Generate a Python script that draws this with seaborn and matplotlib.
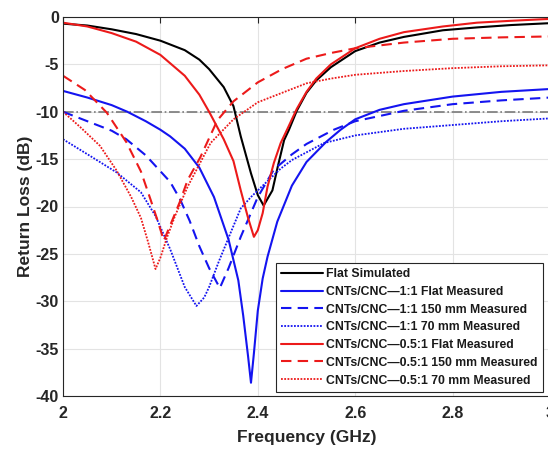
import matplotlib
matplotlib.use("Agg")
import matplotlib.pyplot as plt
import seaborn as sns
import pandas as pd

# ---------------- data ----------------
flat_sim_f = [2.00, 2.05, 2.10, 2.15, 2.20, 2.25, 2.28, 2.30, 2.33, 2.35, 2.365, 2.386, 2.40,
              2.412, 2.43, 2.441, 2.454, 2.464, 2.48, 2.50, 2.52, 2.55, 2.60, 2.65, 2.70, 2.78,
              2.85, 2.92, 3.00]
flat_sim_rl = [-0.7, -0.9, -1.3, -1.8, -2.5, -3.5, -4.5, -5.5, -7.4, -9.4, -12.6, -16.5, -18.8,
               -19.9, -18.3, -15.8, -13.0, -11.9, -9.9, -8.0, -6.7, -5.3, -3.6, -2.7, -2.1, -1.4,
               -1.1, -0.85, -0.65]

r11_flat_f = [2.00, 2.05, 2.10, 2.132, 2.17, 2.20, 2.22, 2.25, 2.28, 2.31, 2.34, 2.36, 2.37,
              2.38, 2.386, 2.392, 2.40, 2.41, 2.42, 2.44, 2.47, 2.50, 2.54, 2.57, 2.60, 2.65,
              2.70, 2.80, 2.90, 3.00]
r11_flat_rl = [-7.8, -8.5, -9.3, -10.0, -11.0, -11.9, -12.6, -13.9, -15.9, -19.0, -23.5, -27.8,
               -31.5, -35.8, -38.6, -35.5, -31.0, -27.6, -25.3, -21.6, -17.8, -15.3, -13.2,
               -11.9, -10.8, -9.8, -9.2, -8.4, -7.9, -7.6]

r11_150_f = [2.00, 2.03, 2.10, 2.13, 2.17, 2.22, 2.24, 2.26, 2.28, 2.30, 2.322, 2.34, 2.365,
             2.40, 2.433, 2.47, 2.50, 2.556, 2.60, 2.70, 2.80, 2.90, 3.00]
r11_150_rl = [-10.0, -10.6, -12.0, -12.9, -14.6, -17.4, -19.2, -21.5, -24.2, -26.5, -28.6,
              -26.5, -23.2, -19.0, -16.1, -14.5, -13.4, -11.9, -11.0, -9.9, -9.2, -8.8, -8.5]

r11_70_f = [2.00, 2.06, 2.11, 2.16, 2.19, 2.22, 2.25, 2.274, 2.29, 2.30, 2.32, 2.344, 2.365,
            2.386, 2.406, 2.447, 2.47, 2.536, 2.60, 2.70, 2.80, 2.90, 3.00]
r11_70_rl = [-12.9, -14.8, -16.4, -18.5, -21.0, -24.5, -28.5, -30.5, -29.6, -28.5, -25.8,
             -22.8, -20.2, -19.0, -18.0, -16.0, -15.1, -13.3, -12.5, -11.8, -11.4, -11.0, -10.7]

r05_flat_f = [2.00, 2.05, 2.10, 2.15, 2.20, 2.25, 2.28, 2.30, 2.33, 2.35, 2.365, 2.38, 2.392,
              2.40, 2.41, 2.42, 2.433, 2.447, 2.46, 2.48, 2.50, 2.52, 2.55, 2.60, 2.65, 2.70,
              2.78, 2.85, 2.92, 3.00]
r05_flat_rl = [-0.6, -1.0, -1.7, -2.6, -4.0, -6.2, -8.2, -10.0, -12.9, -15.2, -18.3, -21.2,
               -23.2, -22.5, -20.7, -17.9, -15.4, -13.3, -11.9, -9.7, -7.9, -6.5, -5.0, -3.3,
               -2.3, -1.6, -1.0, -0.6, -0.4, -0.2]

r05_150_f = [2.00, 2.045, 2.09, 2.13, 2.16, 2.18, 2.195, 2.207, 2.22, 2.24, 2.256, 2.282,
             2.317, 2.35, 2.40, 2.45, 2.50, 2.55, 2.60, 2.70, 2.80, 2.90, 3.00]
r05_150_rl = [-6.2, -7.7, -10.1, -13.2, -16.3, -19.3, -21.6, -23.6, -22.0, -19.5, -17.2,
              -14.8, -10.9, -8.9, -6.9, -5.5, -4.4, -3.8, -3.3, -2.7, -2.3, -2.15, -2.05]

r05_70_f = [2.00, 2.035, 2.076, 2.11, 2.14, 2.16, 2.175, 2.19, 2.20, 2.214, 2.23, 2.256, 2.303,
            2.35, 2.40, 2.45, 2.50, 2.55, 2.60, 2.70, 2.80, 2.90, 3.00]
r05_70_rl = [-10.0, -11.6, -13.6, -16.2, -19.0, -21.2, -23.8, -26.6, -25.4, -23.2, -21.0,
             -17.9, -13.3, -10.8, -9.0, -8.0, -7.0, -6.5, -6.1, -5.7, -5.4, -5.2, -5.1]

labels = ["Flat Simulated",
          "CNTs/CNC\u20141:1 Flat Measured",
          "CNTs/CNC\u20141:1 150 mm Measured",
          "CNTs/CNC\u20141:1 70 mm Measured",
          "CNTs/CNC\u20140.5:1 Flat Measured",
          "CNTs/CNC\u20140.5:1 150 mm Measured",
          "CNTs/CNC\u20140.5:1 70 mm Measured"]
series = [(flat_sim_f, flat_sim_rl), (r11_flat_f, r11_flat_rl), (r11_150_f, r11_150_rl),
          (r11_70_f, r11_70_rl), (r05_flat_f, r05_flat_rl), (r05_150_f, r05_150_rl),
          (r05_70_f, r05_70_rl)]
threshold = -10

# ---------------- style ----------------
sns.set_theme(style="white")
plt.rcParams["font.family"] = ["Liberation Sans", "DejaVu Sans"]
plt.rcParams["font.weight"] = "bold"
plt.rcParams["axes.unicode_minus"] = False

colors = ["#000000", "#1414f0", "#1414f0", "#1414f0", "#ec1a1a", "#ec1a1a", "#ec1a1a"]
styles = ["-", "-", (0, (5, 3)), (0, (1, 0.8)), "-", (0, (5, 3)), (0, (1, 0.8))]
widths = [1.5, 1.5, 1.5, 1.3, 1.5, 1.5, 1.3]

fig = plt.figure(figsize=(5.48, 4.49), dpi=100)
ax = fig.add_axes([63 / 548, 1 - 396 / 449, 487 / 548, (396 - 17) / 449])

for (f, rl), lab, c, ls, lw in zip(series, labels, colors, styles, widths):
    df = pd.DataFrame({"Frequency": f, "RL": rl})
    sns.lineplot(data=df, x="Frequency", y="RL", ax=ax, color=c, linestyle=ls,
                 linewidth=lw, label=lab, sort=True, estimator=None)

ax.axhline(threshold, color="#7a7a7a", linestyle="-.", linewidth=1.2, zorder=1)

ax.set_xlim(2, 3)
ax.set_ylim(-40, 0)
ax.set_xticks([2, 2.2, 2.4, 2.6, 2.8, 3])
ax.set_xticklabels(["2", "2.2", "2.4", "2.6", "2.8", "3"])
ax.set_yticks([0, -5, -10, -15, -20, -25, -30, -35, -40])
ax.grid(True, color="#e3e3e3", linewidth=0.8)
ax.set_axisbelow(True)
ax.tick_params(direction="in", length=4, width=0.8, top=True, right=False,
               labelsize=11.5, colors="#262626")
ax.tick_params(axis="x", pad=7)
ax.tick_params(axis="y", pad=3)
for t in ax.get_xticklabels() + ax.get_yticklabels():
    t.set_fontweight("bold")
for s in ["left", "top", "bottom"]:
    ax.spines[s].set_color("#262626")
    ax.spines[s].set_linewidth(0.8)
ax.spines["right"].set_visible(False)

ax.set_xlabel("Frequency (GHz)", fontsize=12.5, fontweight="bold", color="#262626", labelpad=7)
ax.set_ylabel("Return Loss (dB)", fontsize=12.5, fontweight="bold", color="#262626", labelpad=2)

leg = ax.legend(loc="lower right", bbox_to_anchor=((543 - 63) / 487, 4 / 379),
                bbox_transform=ax.transAxes, fontsize=8.8, frameon=True, fancybox=False,
                framealpha=1, edgecolor="#262626", handlelength=3.4, handletextpad=0.25,
                labelspacing=0.47, borderpad=0.45, borderaxespad=0.0)
leg.get_frame().set_linewidth(0.8)
for t in leg.get_texts():
    t.set_fontweight("bold")
    t.set_color("#1a1a1a")

fig.savefig("out.png", dpi=100)
